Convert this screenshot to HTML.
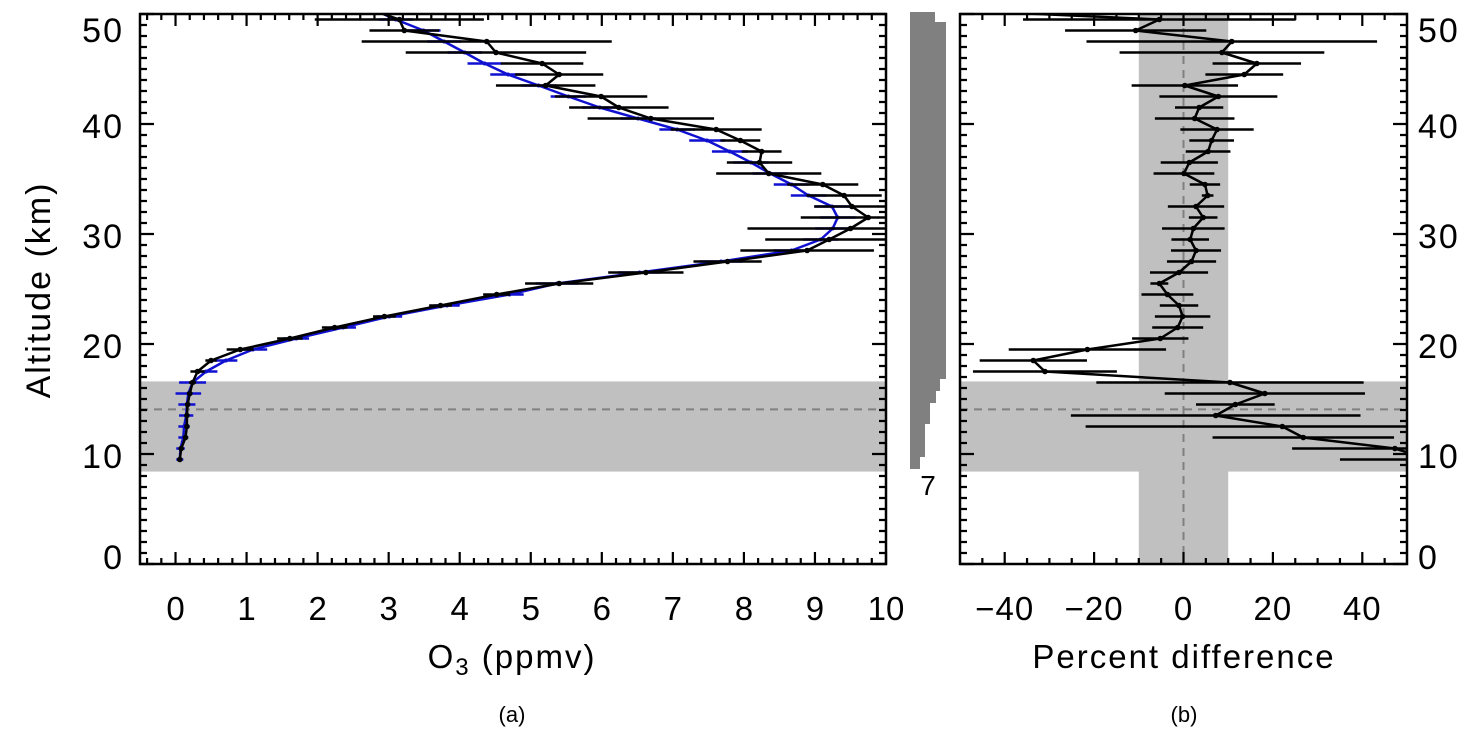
<!DOCTYPE html>
<html><head><meta charset="utf-8">
<style>
html,body{margin:0;padding:0;background:#fff;}
svg{display:block;}
text{font-family:"Liberation Sans","DejaVu Sans",sans-serif;fill:#000;}
</style></head>
<body>
<svg id="chart" width="1480" height="739" viewBox="0 0 1480 739" xmlns="http://www.w3.org/2000/svg">
<defs>
<clipPath id="clipA"><rect x="140" y="14" width="746" height="550"/></clipPath>
<clipPath id="clipB"><rect x="960" y="14" width="447" height="550"/></clipPath>
</defs>
<g id="panelA"></g>
<g id="hist"></g>
<g id="panelB"></g>
</svg>
<script>
// ---- data ----
const altitudes = [9.5,10.5,11.5,12.5,13.5,14.5,15.5,16.5,17.5,18.5,19.5,20.5,21.5,22.5,23.5,24.5,25.5,26.5,27.5,28.5,29.5,30.5,31.5,32.5,33.5,34.5,35.5,36.5,37.5,38.5,39.5,40.5,41.5,42.5,43.5,44.5,45.5,46.5,47.5,48.5,49.5,50.5];
const ozoneMeasured = [0.06,0.08,0.14,0.16,0.16,0.17,0.20,0.24,0.31,0.50,0.91,1.61,2.24,2.94,3.73,4.52,5.40,6.62,7.77,8.89,9.20,9.50,9.75,9.52,9.41,9.11,8.35,8.22,8.25,7.95,7.61,6.69,6.24,5.99,5.21,5.40,5.16,4.51,4.38,3.22,3.15,2.70];
const ozoneMeasuredErr = [0.03,0.03,0.03,0.03,0.03,0.03,0.04,0.05,0.10,0.08,0.19,0.18,0.18,0.16,0.16,0.19,0.48,0.53,0.48,0.94,0.90,1.45,0.95,0.53,0.53,0.50,0.74,0.46,0.28,0.28,0.64,0.89,0.70,0.65,0.70,0.62,0.58,1.27,1.76,0.49,1.19,0.50];
const ozoneModel = [0.06,0.07,0.11,0.12,0.15,0.16,0.18,0.24,0.43,0.71,1.09,1.70,2.36,3.01,3.82,4.70,5.37,6.53,7.68,8.67,9.08,9.25,9.32,9.24,8.91,8.67,8.37,8.10,7.80,7.48,7.06,6.51,5.97,5.53,5.11,4.68,4.35,4.07,3.78,3.49,3.10,2.75];
const ozoneModelErr = [0.05,0.06,0.07,0.08,0.1,0.12,0.18,0.19,0.16,0.16,0.2,0.18,0.18,0.18,0.18,0.2,0.3,0.3,0.3,0.25,0.25,0.25,0.25,0.25,0.25,0.25,0.25,0.25,0.25,0.25,0.25,0.25,0.25,0.25,0.25,0.25,0.24,0.24,0.24,0.24,0.24,0.24];
const pctDiff = [55,47.3,26.8,22.1,7.2,11.6,18.2,10.4,-31.0,-33.6,-21.5,-5.2,-1.3,-0.2,-1.0,-3.6,-5.4,-1.0,1.8,2.8,1.5,2.2,4.4,2.8,5.4,4.8,0.1,1.3,5.5,6.3,7.5,2.5,3.5,7.8,0.3,13.6,16.4,8.6,10.8,-10.7,-5.4,-60];
const pctErr = [20,23,20.3,44,32.4,8.8,22.4,29.9,16.1,12,17.6,6.3,5.7,6.2,4.3,5.8,2,6.5,5.5,5.6,4.2,7,3.2,6.3,1.3,3.4,6.8,6.4,5,5,8.2,8.9,5.4,13.2,11.9,8.7,9.9,22.9,32.5,15.8,30.5,0];
const histSteps = [[12,22,935],[22,379,946],[379,391,940],[391,403,936],[403,424,930],[424,457,925],[457,469,920]];
const altTicks = [0,10,20,30,40,50];
const ozoneTicks = [0,1,2,3,4,5,6,7,8,9,10];
const pctTicks = [-40,-20,0,20,40];
const tropopauseBand = [8.4,16.6];
const tropopauseAlt = 14.06;
const pctBand = [-10,10];

// ---- axes ----
const Y = km => 564 - (km/50)*550;
const XA = v => 140 + (v+0.5)/10.5*746;
const XB = v => 960 + (v+50)/100*447;
const labelY = k => k===50 ? 30 : (k===0 ? 557 : Y(k)+2);
const NS="http://www.w3.org/2000/svg";
function mk(tag, parent, attrs){const e=document.createElementNS(NS,tag);for(const k in attrs)e.setAttribute(k,attrs[k]);parent.appendChild(e);return e;}

const A=document.getElementById('panelA');
const B=document.getElementById('panelB');
const H=document.getElementById('hist');

// ---- panel A ----
let r=mk('rect',A,{x:140,y:Y(tropopauseBand[1]),width:746,height:Y(tropopauseBand[0])-Y(tropopauseBand[1]),fill:'#c0c0c0'});


let dl=mk('line',A,{x1:140,x2:886,y1:Y(tropopauseAlt),y2:Y(tropopauseAlt),stroke:'#808080','stroke-width':2,'stroke-dasharray':'8,6'});



const gA=mk('g',A,{'clip-path':'url(#clipA)'});


function series(g, xs, errs, X, color, name, dots){
  const sg=mk('g',g,{});
  
  
  altitudes.forEach((a,i)=>{
    const eb=mk('line',sg,{x1:X(xs[i]-errs[i]),x2:X(xs[i]+errs[i]),y1:Y(a),y2:Y(a),stroke:color,'stroke-width':2.5});
    
    
  });
  const pl=mk('polyline',sg,{points:altitudes.map((a,i)=>X(xs[i])+','+Y(a)).join(' '),fill:'none',stroke:color,'stroke-width':2.5,'stroke-linejoin':'round'});
  
  
  altitudes.forEach((a,i)=>{
    const c=mk('circle',sg,{cx:X(xs[i]),cy:Y(a),r:dots,fill:color});
    
    
  });
}
series(gA, ozoneModel, ozoneModelErr, XA, '#1010d0', 'model-ozone-series', 2);
series(gA, ozoneMeasured, ozoneMeasuredErr, XA, '#000', 'measured-ozone-series', 2.8);

function frame(P, x0, x1, X, xMajor, xMinorStep, xMinMax, name){
  const fr=mk('rect',P,{x:x0,y:14,width:x1-x0,height:550,fill:'none',stroke:'#000','stroke-width':2.5});
  
  
  let d='';
  for(let k=0;k<=50;k++){const L=(k%10===0)?14:7;const y=Y(k);d+=`M${x0},${y}h${L}M${x1},${y}h${-L}`;}
  for(let v=xMinMax[0];v<=xMinMax[1]+1e-9;v+=xMinorStep){const vv=Math.round(v*100)/100;const maj=xMajor.some(t=>Math.abs(t-vv)<1e-6);const L=maj?12:6;const x=X(vv);d+=`M${x},564v${-L}M${x},14v${L}`;}
  const t=mk('path',P,{d:d,stroke:'#000','stroke-width':2.2,fill:'none'});
  
  
}
frame(A,140,886,XA,ozoneTicks,0.2,[-0.4,10],'panel-a');

altTicks.forEach(k=>{
  const t=mk('text',A,{x:124,y:labelY(k)+12,'text-anchor':'end','font-size':34,'letter-spacing':2});
  t.textContent=k;
  
  
});
ozoneTicks.forEach(v=>{
  const t=mk('text',A,{x:XA(v),y:620,'text-anchor':'middle','font-size':33});
  t.textContent=v;
  
  
});
let yt=mk('text',A,{x:0,y:0,'text-anchor':'middle','font-size':34,'letter-spacing':2,transform:'translate(50,290) rotate(-90)'});
yt.textContent='Altitude (km)';


let xt=mk('text',A,{x:512,y:668,'text-anchor':'middle','font-size':33,'letter-spacing':2});
xt.innerHTML='O<tspan font-size="24" dy="7">3</tspan><tspan dy="-7"> (ppmv)</tspan>';


let la=mk('text',A,{x:512,y:722,'text-anchor':'middle','font-size':22});
la.textContent='(a)';



// ---- histogram ----
histSteps.forEach(s=>{
  const hr=mk('rect',H,{x:910,y:s[0],width:s[2]-910,height:s[1]-s[0],fill:'#808080'});
  
  
});
let h7=mk('text',H,{x:928,y:495,'text-anchor':'middle','font-size':28});
h7.textContent='7';



// ---- panel B ----
let vb=mk('rect',B,{x:XB(pctBand[0]),y:14,width:XB(pctBand[1])-XB(pctBand[0]),height:550,fill:'#c0c0c0'});


let hb=mk('rect',B,{x:960,y:Y(tropopauseBand[1]),width:447,height:Y(tropopauseBand[0])-Y(tropopauseBand[1]),fill:'#c0c0c0'});


let z0=mk('line',B,{x1:XB(0),x2:XB(0),y1:14,y2:564,stroke:'#808080','stroke-width':2,'stroke-dasharray':'8,6'});


let tb=mk('line',B,{x1:960,x2:1407,y1:Y(tropopauseAlt),y2:Y(tropopauseAlt),stroke:'#808080','stroke-width':2,'stroke-dasharray':'8,6'});


const gB=mk('g',B,{'clip-path':'url(#clipB)'});


series(gB, pctDiff, pctErr, XB, '#000', 'percent-difference-series', 2.8);
frame(B,960,1407,XB,pctTicks,5,[-45,45],'panel-b');
altTicks.forEach(k=>{
  const t=mk('text',B,{x:1418,y:labelY(k)+12,'text-anchor':'start','font-size':34,'letter-spacing':2});
  t.textContent=k;
  
  
});
pctTicks.forEach(v=>{
  const t=mk('text',B,{x:XB(v),y:620,'text-anchor':'middle','font-size':33,'letter-spacing':1});
  t.textContent=(v<0?'\u2212':'')+Math.abs(v);
  
  
});
let xtb=mk('text',B,{x:1184,y:668,'text-anchor':'middle','font-size':33,'letter-spacing':2});
xtb.textContent='Percent difference';


let lb=mk('text',B,{x:1184,y:722,'text-anchor':'middle','font-size':22});
lb.textContent='(b)';


</script>
</body></html>
